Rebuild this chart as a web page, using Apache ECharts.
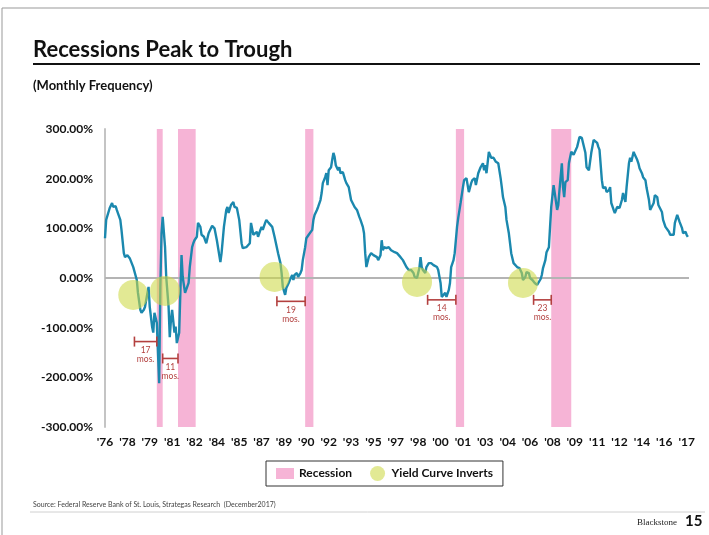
<!DOCTYPE html>
<html>
<head>
<meta charset="utf-8">
<script src="https://cdn.jsdelivr.net/npm/echarts@6/dist/echarts.min.js"></script>
<style>
html,body{margin:0;padding:0;background:#fff;}
#chart{width:709px;height:535px;}
</style>
</head>
<body>
<div id="chart"></div>
<script>
// x = months since June 1976, y = percent
const peakToTrough = [
[0,80],[1,117],[4,141],[6,151],[7,143],[9,145],[10,137],[11,141],[13,117],[14,97],[16,50],[17,42],[19,46],[21,40],[24,22],[27,-4],[28,-30],[30,-64],[31,-70],[33,-64],[34,-58],[35,-44],[37,-18],[38,-58],[40,-98],[41,-110],[42,-70],[44,-90],[45,-151],[46,-212],[47,-18],[48,90],[49,123],[51,62],[52,2],[54,-58],[55,-119],[56,-85],[57,-64],[59,-110],[60,-98],[61,-131],[63,-110],[64,-30],[65,46],[66,2],[68,-30],[69,-34],[71,-10],[72,22],[74,62],[75,70],[76,76],[78,83],[79,111],[81,103],[82,87],[84,83],[86,70],[88,90],[91,105],[93,100],[95,76],[98,32],[99,50],[101,103],[103,137],[104,143],[105,131],[107,147],[109,153],[110,143],[112,141],[114,117],[116,70],[117,60],[120,62],[123,70],
[124,111],[125,113],[126,87],[127,83],[129,93],[130,83],[132,97],[133,103],[134,97],[136,111],[137,117],[139,111],[140,113],[142,103],[143,107],[144,83],[147,50],[149,30],[150,10],[151,-18],[153,-34],[154,-20],[156,-10],[157,-4],[159,6],[160,-4],[161,6],[163,10],[164,2],[166,10],[167,16],[168,36],[170,62],[171,80],[173,87],[174,83],[176,97],[177,117],[178,127],[180,137],[181,143],[183,157],[184,171],[185,191],[187,203],[188,211],[189,187],[190,217],[192,223],[193,238],[194,252],[195,244],[196,227],[198,217],[199,223],[200,211],[202,213],[204,197],[205,191],[207,183],[209,157],[210,161],[212,143],[214,137],[216,123],[217,117],[219,103],[220,90],[221,50],[222,22],[224,42],[226,50],[228,46],[229,50],[231,42],[232,36],[234,46],[235,76],[236,56],[237,62],[239,60],[241,62],[243,56],[246,52],
[248,50],[251,42],[253,36],[256,22],[258,16],[259,12],[260,16],[262,10],[263,2],[265,0],[266,10],[267,20],[268,42],[269,22],[270,16],[272,10],[273,22],[275,30],[276,26],[277,30],[279,26],[282,22],[283,16],[285,-10],[286,-38],[287,-38],[289,-30],[290,-38],[292,-24],[293,-10],[294,22],[296,36],[297,50],[299,103],[300,121],[301,123],[302,151],[304,183],[305,197],[307,201],[308,187],[309,173],[311,191],[312,197],[314,201],[315,187],[317,211],[318,217],[319,223],[321,231],[322,217],[323,227],[324,211],[326,254],[327,258],[328,242],[330,242],[332,234],[334,231],[336,201],[337,183],[338,163],[340,143],[341,117],[343,90],[344,70],[345,50],[347,30],[350,22],[352,20],[354,10],[355,-4],[357,2],[358,12],[360,10],[361,0],[363,-4],[365,-10],[367,-14],
[368,-10],[370,-2],[371,6],[372,20],[374,36],[375,52],[377,62],[378,103],[379,143],[381,187],[382,171],[384,137],[385,147],[386,177],[388,231],[389,183],[390,163],[391,193],[393,197],[394,231],[396,254],[398,248],[399,246],[401,264],[402,274],[403,284],[405,282],[406,272],[408,252],[409,223],[411,217],[412,217],[413,252],[415,278],[416,282],[418,272],[419,264],[420,258],[422,197],[423,181],[425,183],[426,173],[428,177],[429,183],[430,151],[432,137],[433,131],[435,143],[436,143],[437,141],[439,157],[440,171],[442,153],[443,183],[445,231],[446,242],[447,234],[449,254],[450,248],[452,238],[453,231],[454,221],[456,211],[457,203],[459,197],[460,181],[462,157],[463,137],[464,141],[466,151],[467,167],[469,163],[470,147],[471,143],[473,133],[474,117],[476,103],[477,103],[479,93],[480,87],[481,83],[483,87],[484,111],[486,127],[487,123],[488,113],[490,101],[491,90],[493,93],[494,87],[495,83]
];

const xTickLabels = ["'76","'78","'79","'81","'82","'84","'85","'87","'89","'90","'92","'93","'95","'97","'98","'00","'01","'03","'04","'06","'08","'09","'11","'12","'14","'16","'17"];
const xTickStep = 19; // months between labels
const xMax = 496;

const recessionStart = [44, 62, 170, 298, 379];
const recessionEnd   = [49, 77, 177, 305, 396];

const inversionMonth = [24, 51, 144, 265, 355];
const inversionValue = [-34, -26, 2, -8, -10];

const leadStart = [25, 49, 146, 274, 364];
const leadEnd   = [44, 62, 170, 298, 379];
const leadLevel = [-128, -162, -47, -44, -44];
const leadLabel = ['17', '11', '19', '14', '23'];

const PINK = '#f6b4d6';
const LINE = '#1b88ae';
const BRACKET = '#b3403f';
const FONT = 'Lato';

const chart = echarts.init(document.getElementById('chart'), null, {renderer: 'canvas'});

chart.setOption({
  animation: false,
  backgroundColor: '#fff',
  textStyle: {fontFamily: FONT},
  title: [
    {text: 'Recessions Peak to Trough', left: 28, top: 34,
     textStyle: {fontFamily: FONT, fontSize: 22, fontWeight: 'bold', color: '#111'}},
    {text: '(Monthly Frequency)', left: 28, top: 74,
     textStyle: {fontFamily: FONT, fontSize: 13, fontWeight: 'bold', color: '#111'}}
  ],
  graphic: [
    {type: 'rect', shape: {x: 2, y: 8, width: 720, height: 540}, style: {fill: 'none', stroke: '#999', lineWidth: 1}, silent: true},
    {type: 'line', shape: {x1: 33, y1: 64, x2: 700, y2: 64}, style: {stroke: '#111', lineWidth: 2}, silent: true},
    {type: 'text', left: 33, top: 501, style: {text: 'Source: Federal Reserve Bank of St. Louis, Strategas Research  (December2017)', font: '7px ' + FONT, fill: '#444'}, silent: true},
    {type: 'line', shape: {x1: 30, y1: 512, x2: 705, y2: 512}, style: {stroke: '#d0d0d0', lineWidth: 1}, silent: true},
    {type: 'text', left: 637, top: 518, style: {text: 'Blackstone', font: '9px "Liberation Serif"', fill: '#222'}, silent: true},
    {type: 'text', left: 685, top: 514, style: {text: '15', font: 'bold 15px ' + FONT, fill: '#111'}, silent: true}
  ],
  legend: {
    left: 266, top: 461,
    padding: [5, 10, 5, 10],
    itemGap: 18,
    itemWidth: 18, itemHeight: 15,
    borderColor: '#333', borderWidth: 1,
    textStyle: {fontFamily: FONT, fontSize: 12, fontWeight: 'bold', color: '#111'},
    data: [
      {name: 'Recession', icon: 'path://M0,0L0,0M0,2L18,2L18,13L0,13ZM18,15L18,15'},
      {name: 'Yield Curve Inverts', icon: 'circle'}
    ]
  },
  grid: {left: 105, top: 129, width: 584, height: 298, containLabel: false},
  xAxis: {
    type: 'value', min: 0, max: xMax, interval: xTickStep,
    axisLine: {show: false}, axisTick: {show: false}, splitLine: {show: false},
    axisLabel: {
      margin: 9, fontFamily: FONT, fontSize: 12, fontWeight: 'bold', color: '#111',
      showMaxLabel: false,
      formatter: function (v) {
        if (v % xTickStep !== 0) return '';
        return xTickLabels[v / xTickStep] || '';
      }
    }
  },
  yAxis: {
    type: 'value', min: -300, max: 300, interval: 100,
    axisLine: {show: true, lineStyle: {color: '#c4c4c4', width: 2}},
    axisTick: {show: false}, splitLine: {show: false},
    axisLabel: {
      margin: 12, fontFamily: FONT, fontSize: 12, fontWeight: 'bold', color: '#111',
      formatter: function (v) { return v.toFixed(2) + '%'; }
    }
  },
  series: [
    {
      name: 'Recession', type: 'line', data: [], color: PINK,
      itemStyle: {color: PINK}, lineStyle: {color: PINK}
    },
    {
      name: 'Series', type: 'line', data: peakToTrough, z: 3,
      showSymbol: false, symbol: 'none',
      lineStyle: {color: LINE, width: 2.4},
      itemStyle: {color: LINE},
      markArea: {
        silent: true,
        itemStyle: {color: PINK, opacity: 1},
        data: recessionStart.map((s, i) => [{xAxis: s}, {xAxis: recessionEnd[i]}])
      },
      markLine: {
        silent: true, symbol: ['none', 'none'], z: 2,
        label: {show: false},
        lineStyle: {color: '#b4b4b4', width: 2, type: 'solid'},
        data: [{yAxis: 0}]
      }
    },
    {
      name: 'Yield Curve Inverts', type: 'scatter', z: 4,
      symbol: 'circle', symbolSize: 30,
      itemStyle: {color: 'rgba(204,217,70,0.72)'},
      data: inversionMonth.map((m, i) => [m, inversionValue[i]])
    },
    {
      name: 'Lead', type: 'custom', z: 5, silent: true,
      encode: {x: [0, 1], y: 2},
      data: leadStart.map((s, i) => [s, leadEnd[i], leadLevel[i]]),
      renderItem: function (params, api) {
        const a = api.coord([api.value(0), api.value(2)]);
        const b = api.coord([api.value(1), api.value(2)]);
        const cx = (a[0] + b[0]) / 2;
        const st = {stroke: BRACKET, lineWidth: 1.6};
        return {
          type: 'group',
          children: [
            {type: 'line', shape: {x1: a[0], y1: a[1], x2: b[0], y2: b[1]}, style: st},
            {type: 'line', shape: {x1: a[0], y1: a[1] - 5, x2: a[0], y2: a[1] + 5}, style: st},
            {type: 'line', shape: {x1: b[0], y1: b[1] - 5, x2: b[0], y2: b[1] + 5}, style: st},
            {type: 'text', style: {
              text: leadLabel[params.dataIndex] + '\nmos.', x: cx, y: a[1] + 4,
              align: 'center', verticalAlign: 'top', font: '8.5px ' + FONT,
              lineHeight: 9, fill: BRACKET
            }}
          ]
        };
      }
    }
  ]
});
</script>
</body>
</html>
